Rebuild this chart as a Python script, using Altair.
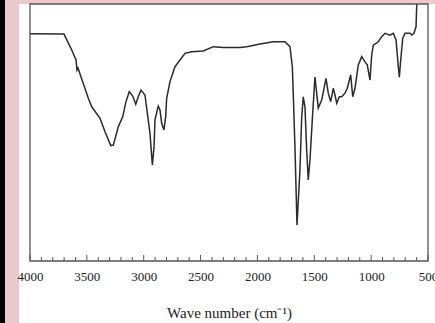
import altair as alt
import pandas as pd

wavenumber = [4000, 3701, 3633, 3595, 3587, 3578, 3487, 3457, 3384, 3340, 3290, 3267,
              3223, 3185, 3156, 3127, 3097, 3070, 3048, 3024, 2989, 2968, 2945, 2924,
              2909, 2901, 2872, 2857, 2842, 2822, 2807, 2798, 2769, 2725, 2637, 2578,
              2476, 2388, 2300, 2153, 2094, 1977, 1860, 1758, 1714, 1693, 1683, 1670,
              1652, 1626, 1611, 1597, 1582, 1567, 1553, 1538, 1514, 1494, 1465, 1435,
              1397, 1377, 1356, 1333, 1318, 1303, 1280, 1259, 1230, 1210, 1180, 1162,
              1142, 1113, 1083, 1054, 1034, 1010, 995, 981, 937, 907, 878, 834,
              805, 781, 761, 752, 740, 722, 702, 658, 643, 623, 605, 599]
transmittance = [88.4, 88.3, 82.1, 78.2, 74.3, 75.1, 63.3, 60.0, 55.5, 50.3, 44.9, 45.1,
                 52.3, 56.1, 62.0, 65.9, 64.2, 61.0, 63.9, 66.5, 64.6, 57.5, 49.7, 37.4,
                 44.5, 54.9, 60.3, 58.8, 53.6, 51.0, 56.1, 63.3, 69.8, 75.6, 80.8, 81.4,
                 81.7, 83.4, 83.1, 83.1, 83.4, 84.4, 85.3, 85.3, 83.4, 75.6, 62.6, 44.4,
                 14.0, 35.4, 55.6, 63.9, 60.0, 43.2, 31.5, 39.3, 57.6, 71.6, 59.5, 62.6,
                 71.1, 65.3, 62.0, 67.2, 64.6, 61.4, 63.9, 63.9, 65.3, 67.2, 72.4, 63.9,
                 67.2, 76.3, 79.5, 77.5, 76.3, 70.4, 80.2, 84.0, 85.3, 87.3, 88.6, 87.9,
                 88.6, 86.0, 75.6, 71.5, 78.2, 86.7, 88.6, 88.6, 87.9, 88.6, 91.2, 100.0]
major_ticks = [4000, 3500, 3000, 2500, 2000, 1500, 1000, 500]
minor_ticks = [v for v in range(3900, 500, -100) if v % 500 != 0]

df = pd.DataFrame({"wn": wavenumber, "T": transmittance})
xscale = alt.Scale(domain=[500, 4000], reverse=True, nice=False, zero=False)
yscale = alt.Scale(domain=[0, 100], nice=False, zero=False)
FONT = "Times New Roman, Liberation Serif, serif"

one = alt.Data(values=[{"k": 1}])
white_bg = alt.Chart(one).mark_rect(fill="white").encode(
    x=alt.value(-11), x2=alt.value(405), y=alt.value(0), y2=alt.value(319))
black_strip = alt.Chart(one).mark_rect(fill="black").encode(
    x=alt.value(-30), x2=alt.value(-25), y=alt.value(-4), y2=alt.value(319))
frame = alt.Chart(one).mark_rect(fill=None, stroke="#555555", strokeWidth=1.3).encode(
    x=alt.value(0), x2=alt.value(398), y=alt.value(0), y2=alt.value(257))

line = alt.Chart(df).mark_line(color="#2a2a2a", strokeWidth=1.5).encode(
    x=alt.X("wn:Q", scale=xscale,
            axis=alt.Axis(values=major_ticks, format="d", ticks=False, domain=False,
                          grid=False, labelFont=FONT, labelFontSize=13,
                          labelColor="#222222", labelPadding=9, labelFlush=False,
                          labelOverlap=False, zindex=1,
                          title="Wave number (cm\u207b\u00b9)", titleFont=FONT,
                          titleFontSize=15, titleFontWeight="normal",
                          titleColor="#222222", titlePadding=22)),
    y=alt.Y("T:Q", scale=yscale, axis=None),
)

minor = alt.Chart(pd.DataFrame({"wn": minor_ticks})).mark_rule(
    color="#555555", strokeWidth=1).encode(
    x=alt.X("wn:Q", scale=xscale), y=alt.value(257), y2=alt.value(253))
major = alt.Chart(pd.DataFrame({"wn": major_ticks})).mark_rule(
    color="#555555", strokeWidth=1).encode(
    x=alt.X("wn:Q", scale=xscale), y=alt.value(257), y2=alt.value(251))

chart = alt.layer(white_bg, black_strip, line, minor, major, frame).properties(
    width=398, height=257,
    padding={"left": 30, "top": 4, "right": 7, "bottom": 62},
    autosize=alt.AutoSizeParams(type="none"),
    background="#e9c9c9",
).configure_view(stroke=None)

chart.save("out.html", embed_options={"renderer": "svg", "actions": False})
